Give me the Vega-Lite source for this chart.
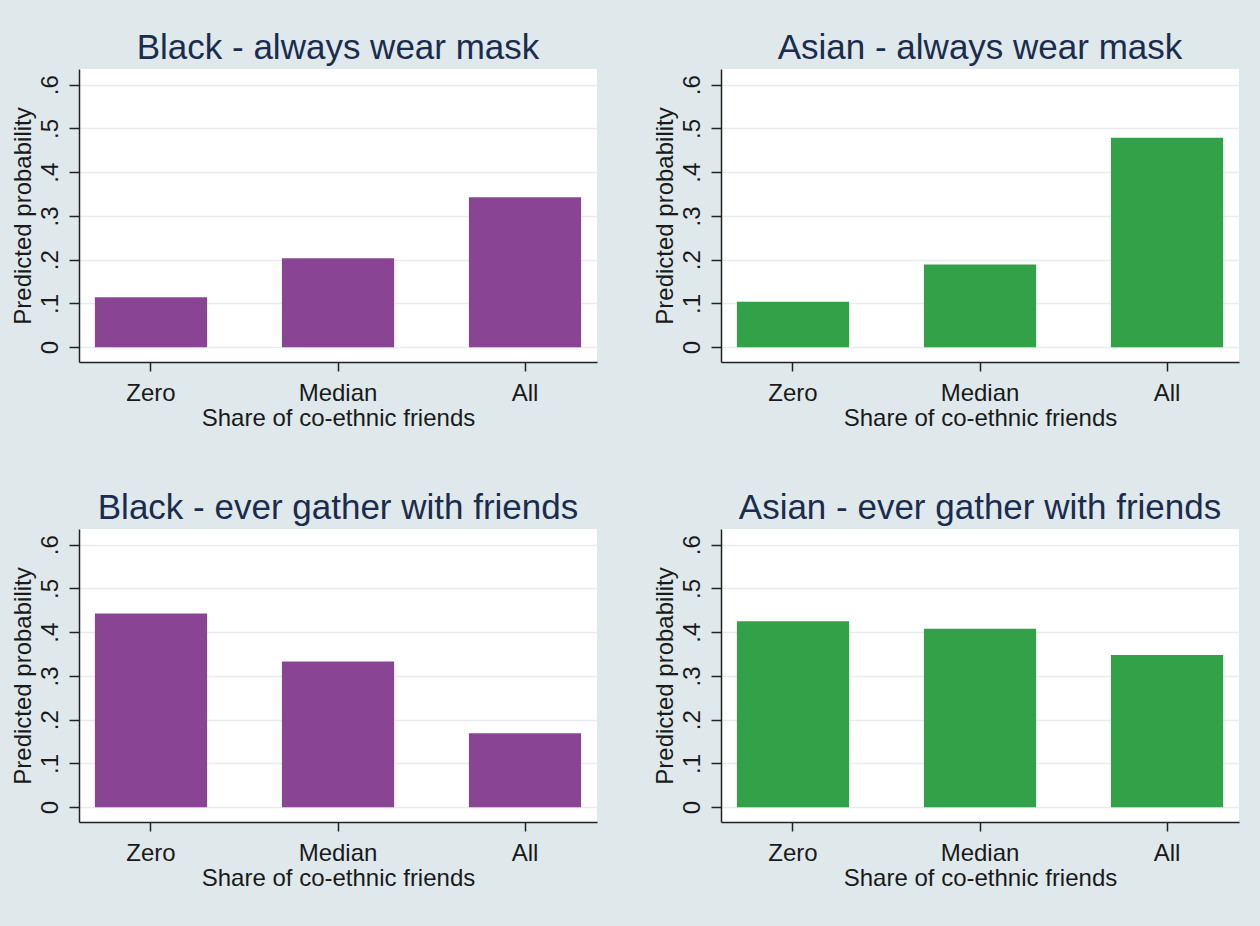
{
  "$schema": "https://vega.github.io/schema/vega-lite/v6.json",
  "background": "#dfe9ec",
  "padding": {"left": 10, "top": 31, "right": 22, "bottom": 38},
  "data": {"values": [
    {"panel": "Black - always wear mask", "group": "Black", "share": "Zero", "prob": 0.114},
    {"panel": "Black - always wear mask", "group": "Black", "share": "Median", "prob": 0.203},
    {"panel": "Black - always wear mask", "group": "Black", "share": "All", "prob": 0.343},
    {"panel": "Asian - always wear mask", "group": "Asian", "share": "Zero", "prob": 0.104},
    {"panel": "Asian - always wear mask", "group": "Asian", "share": "Median", "prob": 0.189},
    {"panel": "Asian - always wear mask", "group": "Asian", "share": "All", "prob": 0.479},
    {"panel": "Black - ever gather with friends", "group": "Black", "share": "Zero", "prob": 0.443},
    {"panel": "Black - ever gather with friends", "group": "Black", "share": "Median", "prob": 0.333},
    {"panel": "Black - ever gather with friends", "group": "Black", "share": "All", "prob": 0.169},
    {"panel": "Asian - ever gather with friends", "group": "Asian", "share": "Zero", "prob": 0.425},
    {"panel": "Asian - ever gather with friends", "group": "Asian", "share": "Median", "prob": 0.408},
    {"panel": "Asian - ever gather with friends", "group": "Asian", "share": "All", "prob": 0.348}
  ]},
  "facet": {
    "field": "panel",
    "type": "nominal",
    "sort": ["Black - always wear mask", "Asian - always wear mask", "Black - ever gather with friends", "Asian - ever gather with friends"],
    "header": {
      "title": null,
      "labelFont": "Liberation Sans",
      "labelFontSize": 35,
      "labelColor": "#1b2c4e",
      "labelBaseline": "alphabetic",
      "labelPadding": -25
    }
  },
  "columns": 2,
  "spacing": {"column": 55, "row": 61},
  "spec": {
    "width": 518,
    "height": 293,
    "mark": {"type": "bar", "stroke": null},
    "encoding": {
      "x": {
        "field": "share",
        "type": "nominal",
        "sort": ["Zero", "Median", "All"],
        "scale": {"paddingInner": 0.4, "paddingOuter": 0.085},
        "axis": {
          "title": "Share of co-ethnic friends",
          "labelAngle": 0,
          "tickSize": 9,
          "labelPadding": 10,
          "titlePadding": 1
        }
      },
      "y": {
        "field": "prob",
        "type": "quantitative",
        "scale": {"domain": [-0.034, 0.636], "nice": false, "zero": false},
        "axis": {
          "title": "Predicted probability",
          "values": [0, 0.1, 0.2, 0.3, 0.4, 0.5, 0.6],
          "labelExpr": "datum.value === 0 ? '0' : replace(format(datum.value, '.1f'), '0.', '.')",
          "labelAngle": -90,
          "labelAlign": "center",
          "labelBaseline": "alphabetic",
          "tickSize": 10,
          "labelPadding": 12,
          "titleX": -49,
          "titleY": 146.5,
          "titleAngle": -90,
          "titleBaseline": "alphabetic",
          "titleAlign": "center",
          "grid": true
        }
      },
      "y2": {"datum": 0},
      "color": {
        "field": "group",
        "type": "nominal",
        "scale": {"domain": ["Black", "Asian"], "range": ["#8a4494", "#33a148"]},
        "legend": null
      }
    }
  },
  "resolve": {"axis": {"x": "independent", "y": "independent"}},
  "config": {
    "view": {"fill": "white", "stroke": null},
    "axis": {
      "labelFont": "Liberation Sans",
      "titleFont": "Liberation Sans",
      "labelFontSize": 24,
      "titleFontSize": 24,
      "titleFontWeight": "normal",
      "labelColor": "#1a1a1a",
      "titleColor": "#1a1a1a",
      "domainColor": "#222222",
      "domainWidth": 1.5,
      "tickColor": "#222222",
      "tickWidth": 1.5,
      "gridColor": "#e8ecee",
      "gridWidth": 1.5,
      "labelOverlap": false
    }
  }
}
